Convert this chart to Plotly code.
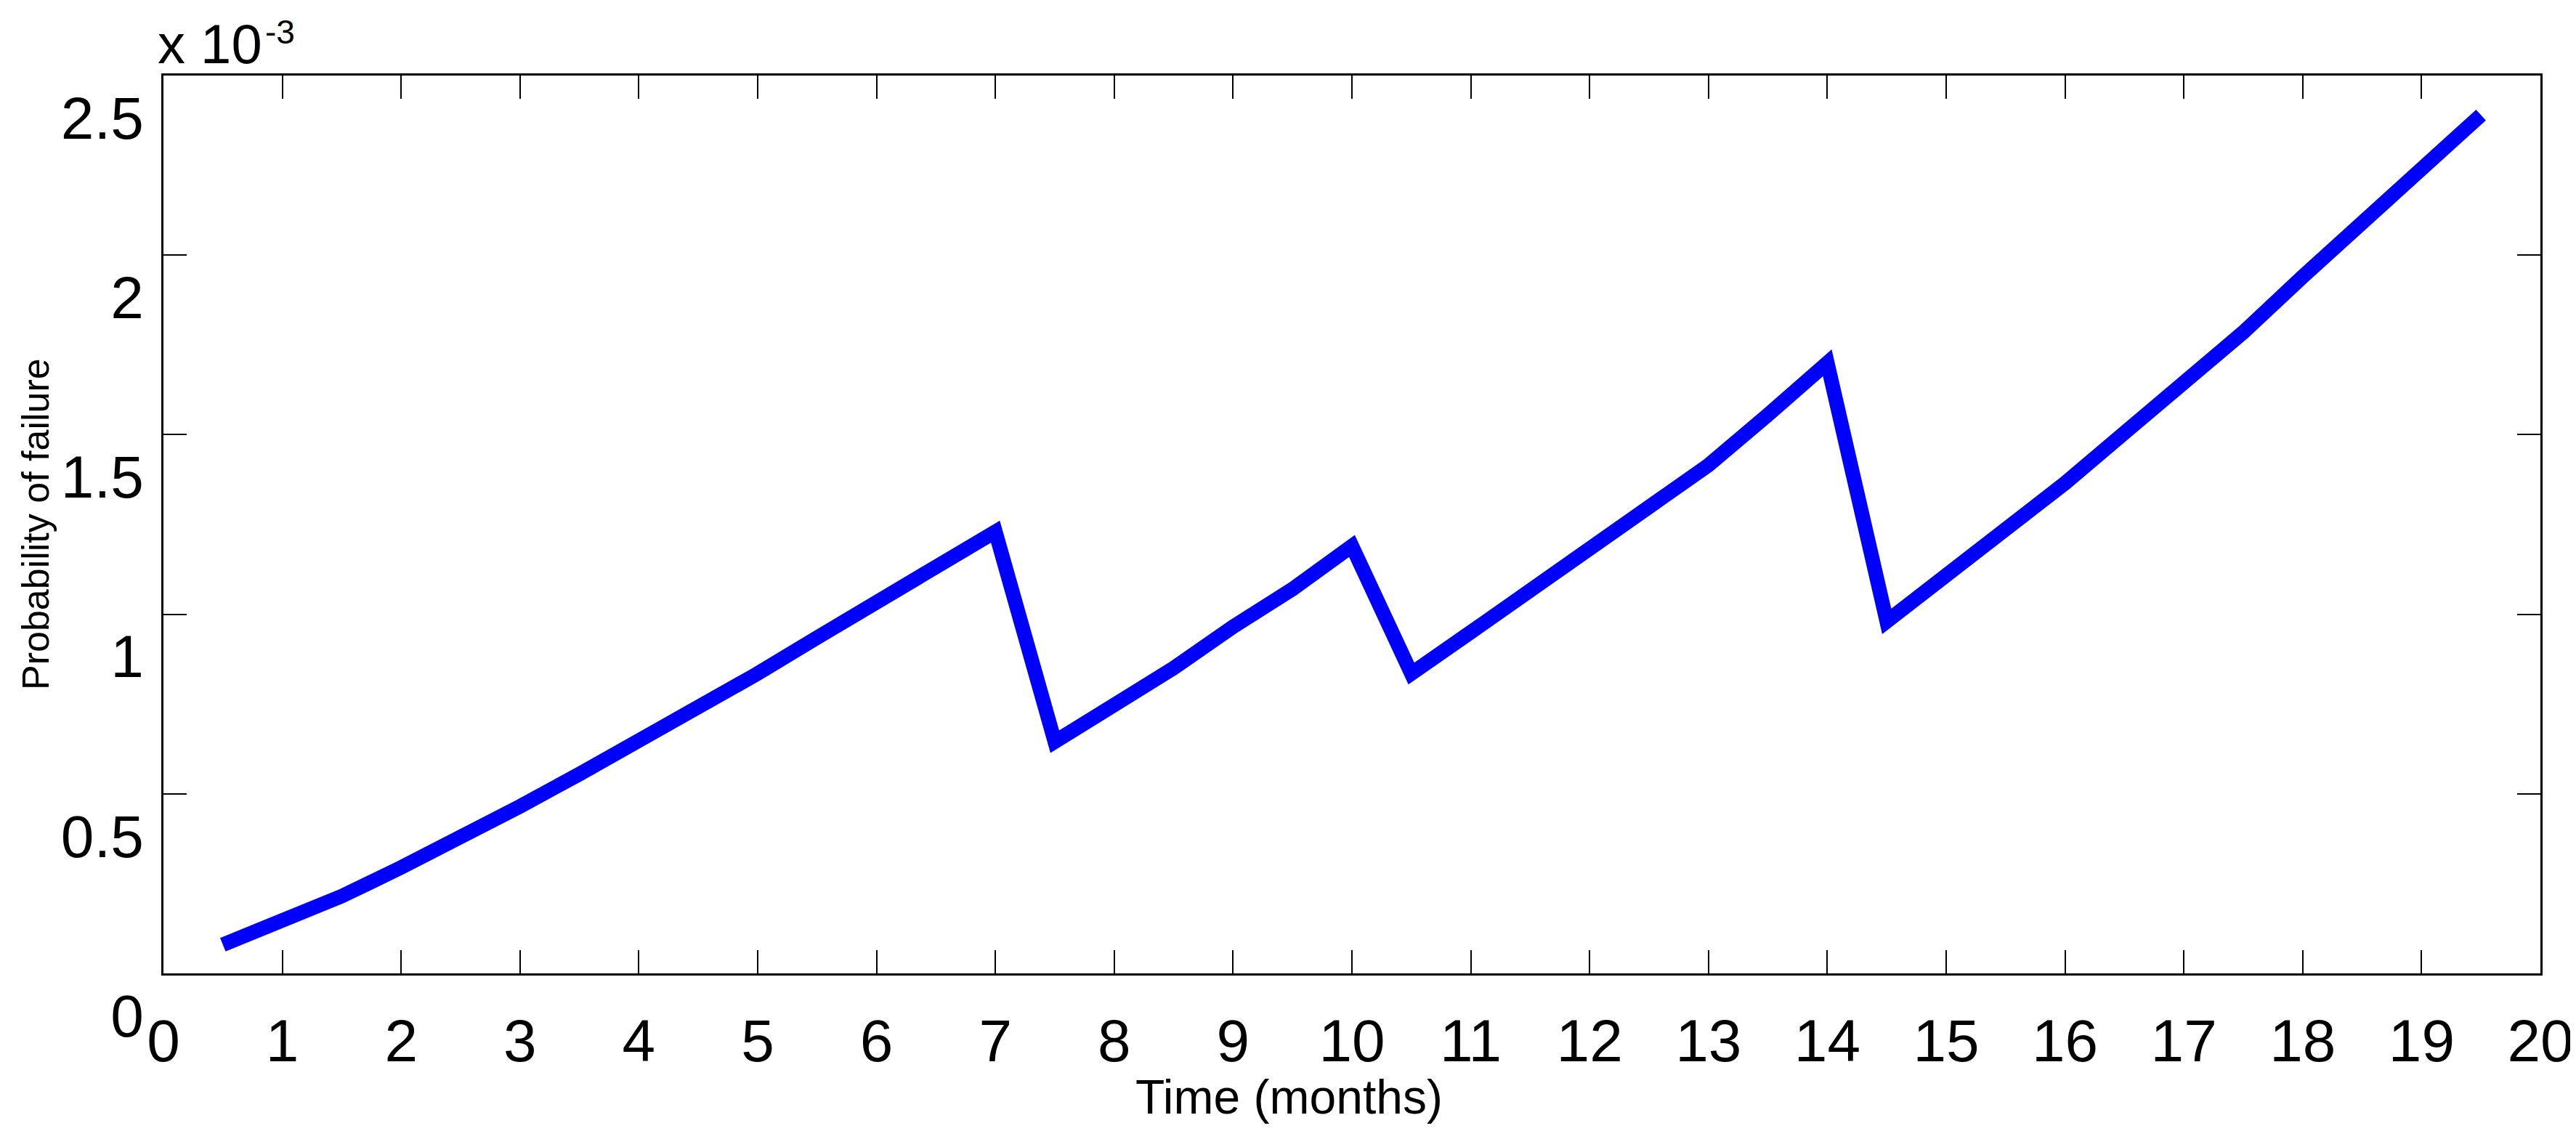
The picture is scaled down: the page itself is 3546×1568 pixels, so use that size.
import plotly.graph_objects as go

# time axis (months) and probability of failure, in units of 1e-3
months = [0.5, 1, 1.5, 2, 2.5, 3, 3.5, 4, 4.5, 5, 5.5, 6, 6.5, 7, 7.5, 8, 8.5, 9, 9.5, 10,
          10.5, 11, 11.5, 12, 12.5, 13, 13.5, 14, 14.5, 15, 15.5, 16, 16.5, 17, 17.5, 18,
          18.5, 19, 19.5]
failure_prob = [0.08, 0.145, 0.215, 0.295, 0.375, 0.465, 0.555, 0.645, 0.74, 0.835, 0.935,
                1.03, 1.13, 1.23, 0.645, 0.745, 0.85, 0.965, 1.07, 1.19, 0.835, 0.95, 1.065,
                1.18, 1.295, 1.415, 1.555, 1.70, 0.98, 1.105, 1.235, 1.365, 1.505, 1.64,
                1.785, 1.94, 2.09, 2.24, 2.39]

x_ticks = list(range(0, 21))
y_ticks = [0, 0.5, 1, 1.5, 2, 2.5]
y_tick_text = ['0', '0.5', '1', '1.5', '2', '2.5']

FONT = 'Liberation Sans, Arial, sans-serif'

fig = go.Figure()

fig.add_trace(
    go.Scatter(
        x=months,
        y=failure_prob,
        mode='lines',
        line=dict(color='#0000FF', width=20),
        showlegend=False
    )
)

axis_common = dict(
    showline=True,
    linecolor='black',
    linewidth=2.5,
    mirror='ticks',
    ticks='inside',
    ticklen=32,
    tickwidth=2,
    tickcolor='black',
    showgrid=False,
    zeroline=False,
    tickfont=dict(family=FONT, size=82, color='black'),
)

fig.update_xaxes(
    range=[0, 20],
    tickvals=x_ticks,
    ticklabelstandoff=20,
    **axis_common
)

fig.update_yaxes(
    range=[0, 2.5],
    tickvals=y_ticks,
    ticktext=y_tick_text,
    ticklabelstandoff=8,
    ticklabelshift=58,
    **axis_common
)

# exponent label above the y axis, MATLAB style
fig.add_annotation(
    text='x 10',
    xref='paper', yref='paper', x=0, y=1,
    xanchor='left', yanchor='middle', xshift=-10, yshift=44,
    showarrow=False,
    font=dict(family=FONT, size=76, color='black')
)
fig.add_annotation(
    text='-3',
    xref='paper', yref='paper', x=0, y=1,
    xanchor='left', yanchor='middle', xshift=138, yshift=60,
    showarrow=False,
    font=dict(family=FONT, size=46, color='black')
)

fig.add_annotation(
    text='Time (months)',
    xref='paper', yref='paper', x=0.4737, y=0,
    xanchor='center', yanchor='middle', yshift=-170,
    showarrow=False,
    font=dict(family=FONT, size=66, color='black')
)

fig.add_annotation(
    text='Probability of failure',
    xref='paper', yref='paper', x=0, y=0.5,
    xanchor='center', yanchor='middle', xshift=-176,
    textangle=-90,
    showarrow=False,
    font=dict(family=FONT, size=52, color='black')
)

fig.update_layout(
    width=3546,
    height=1568,
    margin=dict(l=217, r=57, t=96, b=236),
    paper_bgcolor='white',
    plot_bgcolor='white',
)

fig.write_html("out.html")
